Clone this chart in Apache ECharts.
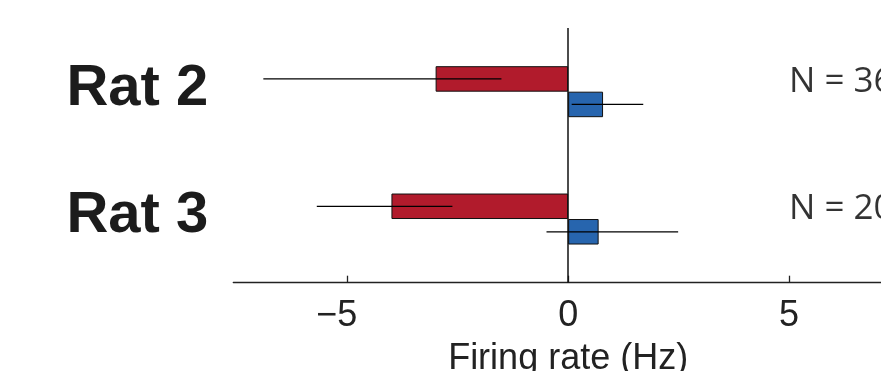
<!DOCTYPE html>
<html lang="en">
<head>
    <meta charset="UTF-8">
    <title>Firing rate</title>
    <style>
        html, body {margin: 0; padding: 0; overflow: hidden; background: #fff;}
        #chart {width: 940px; height: 371px;}
    </style>
</head>
<body>
    <div id="chart"></div>

    <script src="https://cdn.jsdelivr.net/npm/echarts@6/dist/echarts.min.js"></script>
    <script>

// data
const rats = ['Rat 2', 'Rat 3'];
const redMeans = [-3.0, -4.0];
const redLow = [-6.9, -5.69];
const redHigh = [-1.51, -2.62];
const blueMeans = [0.79, 0.69];
const blueLow = [0.08, -0.49];
const blueHigh = [1.7, 2.49];
const nCounts = [36, 20];
const xTicks = [-5, 0, 5];

const RED = '#B11B2C';
const BLUE = '#2765AE';
const BAR_W = 25.5;
const FONT = '"Liberation Sans", Arial, sans-serif';

const chart = echarts.init(document.getElementById('chart'));

// error bar rows: [category, low, high, side]  side -1 = red (upper), 1 = blue (lower)
const errData = [];
rats.forEach(function (r, i) {
    errData.push([i, redLow[i], redHigh[i], -1]);
    errData.push([i, blueLow[i], blueHigh[i], 1]);
});

function renderErr(params, api) {
    const cat = api.value(0);
    const p1 = api.coord([api.value(1), cat]);
    const p2 = api.coord([api.value(2), cat]);
    const y = p1[1] + api.value(3) * BAR_W / 2;
    return {
        type: 'line',
        shape: {x1: p1[0], y1: y, x2: p2[0], y2: y},
        style: {stroke: '#000', lineWidth: 1.3}
    };
}

chart.setOption({
    animation: false,
    grid: {left: 233.3, right: 37, top: 28, bottom: 88.3, outerBoundsMode: 'none', containLabel: false},
    xAxis: {
        type: 'value',
        min: -7.58,
        max: 7.58,
        splitLine: {show: false},
        axisLine: {show: true, onZero: false, lineStyle: {color: '#222', width: 1.3}},
        axisTick: {show: true, inside: true, length: 7, customValues: xTicks, lineStyle: {color: '#222', width: 1.3}},
        axisLabel: {
            customValues: xTicks,
            margin: 15,
            fontSize: 36,
            fontFamily: FONT,
            color: '#222',
            formatter: function (v) {
                // digit sits on the tick, minus hangs to the left
                return v < 0 ? '\u2212' + Math.abs(v) + '{h|\u2212}' : String(v);
            },
            rich: {h: {fontSize: 36, fontFamily: FONT, color: 'transparent'}}
        },
        name: 'Firing rate (Hz)',
        nameLocation: 'middle',
        nameGap: 58,
        nameTextStyle: {fontSize: 36, fontFamily: FONT, color: '#222'}
    },
    yAxis: {
        type: 'category',
        inverse: true,
        data: rats,
        axisLine: {show: false},
        axisTick: {show: false},
        axisLabel: {
            margin: 25,
            fontSize: 58,
            fontWeight: 'bold',
            fontFamily: FONT,
            color: '#1c1c1c',
            verticalAlign: 'bottom',
            lineHeight: 6
        }
    },
    series: [
        {
            type: 'bar',
            data: redMeans,
            barWidth: BAR_W,
            barGap: '0%',
            itemStyle: {color: RED, borderColor: '#111', borderWidth: 1},
            markLine: {
                silent: true,
                symbol: 'none',
                label: {show: false},
                lineStyle: {color: '#111', width: 1.5, type: 'solid'},
                data: [{xAxis: 0}]
            }
        },
        {
            type: 'bar',
            data: blueMeans,
            barWidth: BAR_W,
            barGap: '0%',
            itemStyle: {color: BLUE, borderColor: '#111', borderWidth: 1}
        },
        {
            type: 'custom',
            renderItem: renderErr,
            data: errData,
            z: 5
        },
        {
            type: 'scatter',
            symbolSize: 0,
            data: rats.map(function (r, i) { return [5, i]; }),
            label: {
                show: true,
                position: 'right',
                distance: 0,
                offset: [0, -10],
                fontSize: 35,
                fontFamily: '"Open Sans", sans-serif',
                color: '#000',
                formatter: function (p) { return 'N = ' + nCounts[p.dataIndex]; }
            }
        }
    ]
});
    </script>
</body>
</html>
